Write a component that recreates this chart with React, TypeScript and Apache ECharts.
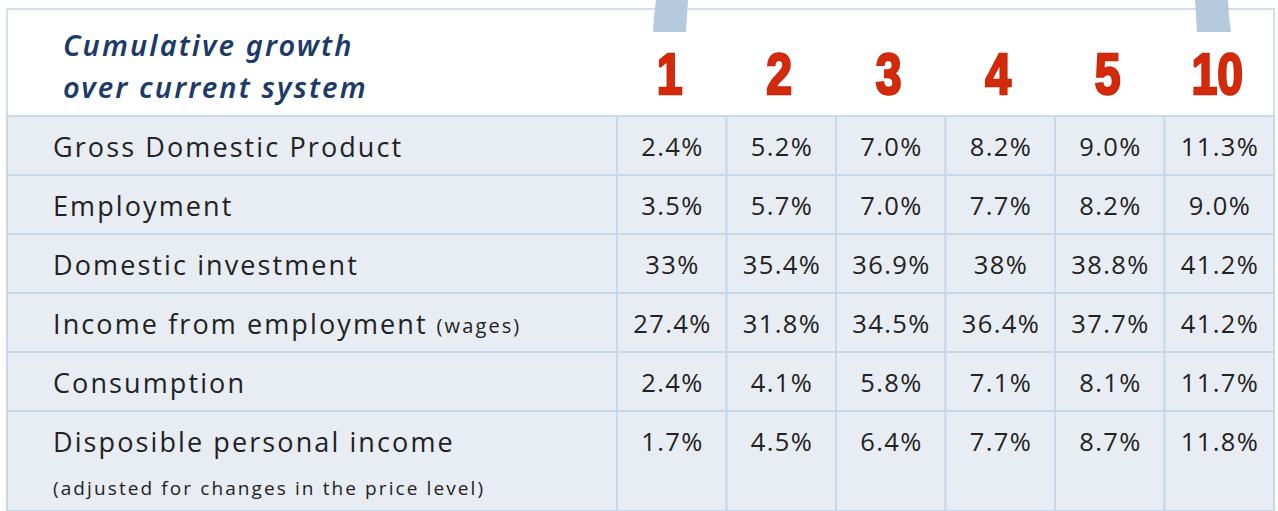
import React, { useEffect, useRef } from "react";
import * as echarts from "echarts";

const years = ["1", "2", "3", "4", "5", "10"];
const rowLabels = [
  "Gross Domestic Product",
  "Employment",
  "Domestic investment",
  "Income from employment",
  "Consumption",
  "Disposible personal income",
];
const rowNotes = ["", "", "", "(wages)", "", "(adjusted for changes in the price level)"];
const gdp = ["2.4", "5.2", "7.0", "8.2", "9.0", "11.3"];
const employment = ["3.5", "5.7", "7.0", "7.7", "8.2", "9.0"];
const investment = ["33", "35.4", "36.9", "38", "38.8", "41.2"];
const wages = ["27.4", "31.8", "34.5", "36.4", "37.7", "41.2"];
const consumption = ["2.4", "4.1", "5.8", "7.1", "8.1", "11.7"];
const disposable = ["1.7", "4.5", "6.4", "7.7", "8.7", "11.8"];
const titleText = "Cumulative growth\nover current system";

const rows = [gdp, employment, investment, wages, consumption, disposable];

const BG = "#e8edf3";
const LINE = "#c7d8e8";
const TEXT = "#222222";
const BODY_FONT = "'Open Sans', sans-serif";
const VALUE_FONT = "'Open Sans', Roboto, sans-serif";
const TITLE_FONT = "'Noto Sans', sans-serif";
const BODY_SPACING = 2.1;
const VALUE_SPACING = 1.4;
const BODY_SIZE = 27;
const VALUE_SIZE = 25.5;
const ROW_H = 59;
const GRID_TOP = 116;
const H = 511;

const css = `
#root svg text[style*="Open Sans"] { letter-spacing: ${BODY_SPACING}px; }
#root svg text[style*="Roboto"] { letter-spacing: ${VALUE_SPACING}px; }
#root svg text[style*="Noto Sans"] { letter-spacing: 2.1px; }
`;

let measureCtx: CanvasRenderingContext2D | null = null;
function textWidth(text: string, font: string) {
  if (!measureCtx) measureCtx = document.createElement("canvas").getContext("2d");
  measureCtx!.font = font;
  return measureCtx!.measureText(text).width + text.length * BODY_SPACING;
}

export default function App() {
  const ref = useRef<HTMLDivElement>(null);
  useEffect(() => {
    document.body.style.margin = "0";
    const chart = echarts.init(ref.current!, null, { renderer: "svg" });

    const labelData = rowLabels.map((_, r) => [0, r]);
    const valueData: any[] = [];
    rows.forEach((vals, r) => vals.forEach((v, c) => valueData.push([c, r, v])));
    const headerData = years.map((_, i) => [i, 0]);
    const yMax = (H - GRID_TOP) / ROW_H;

    const rowBounds = (api: any, params: any, r: number) => {
      const cs = params.coordSys;
      const top = api.coord([0, r])[1];
      const bottom = r === rowLabels.length - 1 ? cs.y + cs.height : api.coord([0, r + 1])[1];
      return { top, bottom };
    };

    chart.setOption({
      animation: false,
      backgroundColor: "#ffffff",
      title: {
        text: titleText,
        left: 58,
        top: 18,
        textStyle: {
          fontFamily: TITLE_FONT,
          fontStyle: "italic",
          fontWeight: 600,
          fontSize: 29,
          lineHeight: 42,
          color: "#1d3b69",
        },
      },
      grid: [
        { left: 7, top: GRID_TOP, width: 610, bottom: 0 },
        { left: 617, top: GRID_TOP, width: 657, bottom: 0 },
      ],
      xAxis: [
        { type: "category", gridIndex: 0, data: ["label"], show: false },
        {
          type: "category",
          gridIndex: 1,
          data: years,
          position: "top",
          axisLine: { show: false },
          axisTick: { show: false },
          splitLine: { show: false },
          axisLabel: { show: false },
        },
      ],
      yAxis: [
        { type: "value", gridIndex: 0, min: 0, max: yMax, inverse: true, show: false },
        { type: "value", gridIndex: 1, min: 0, max: yMax, inverse: true, show: false },
      ],
      graphic: [
        {
          type: "rect",
          shape: { x: 7, y: 9, width: 1267, height: 107 },
          style: { fill: "#ffffff", stroke: "#d3dfea", lineWidth: 2 },
          z: -1,
        },
        {
          type: "polygon",
          shape: { points: [[656, 0], [688, 0], [687, 16], [686, 32], [653, 32], [654, 16]] },
          style: { fill: "#b5cadd" },
        },
        {
          type: "polygon",
          shape: { points: [[1195, 0], [1228, 0], [1229, 16], [1231, 32], [1197, 32], [1196, 16]] },
          style: { fill: "#b5cadd" },
        },
      ],
      series: [
        {
          type: "custom",
          xAxisIndex: 0,
          yAxisIndex: 0,
          clip: false,
          data: labelData,
          renderItem: (params: any, api: any) => {
            const r = api.value(1);
            const cs = params.coordSys;
            const { top, bottom } = rowBounds(api, params, r);
            const x0 = cs.x + 46;
            const children: any[] = [
              {
                type: "rect",
                shape: { x: cs.x, y: top, width: cs.width, height: bottom - top },
                style: { fill: BG, stroke: LINE, lineWidth: 2 },
              },
              {
                type: "text",
                style: {
                  x: x0,
                  y: top + 30,
                  text: rowLabels[r],
                  verticalAlign: "middle",
                  fontFamily: BODY_FONT,
                  fontSize: BODY_SIZE,
                  fill: TEXT,
                },
              },
            ];
            const note = rowNotes[r];
            if (note) {
              const last = r === rowLabels.length - 1;
              const nx = last ? x0 : x0 + textWidth(rowLabels[r], `${BODY_SIZE}px ${BODY_FONT}`) + 9;
              children.push({
                type: "text",
                style: {
                  x: nx,
                  y: last ? top + 77 : top + 32,
                  text: note,
                  verticalAlign: "middle",
                  fontFamily: BODY_FONT,
                  fontSize: last ? 19 : 20,
                  fill: TEXT,
                },
              });
            }
            return { type: "group", children };
          },
        },
        {
          type: "custom",
          xAxisIndex: 1,
          yAxisIndex: 1,
          clip: false,
          data: valueData,
          renderItem: (params: any, api: any) => {
            const c = api.value(0);
            const r = api.value(1);
            const cx = api.coord([c, r])[0];
            const w = api.size([1, 1])[0];
            const { top, bottom } = rowBounds(api, params, r);
            const v = valueData[params.dataIndex][2];
            return {
              type: "group",
              children: [
                {
                  type: "rect",
                  shape: { x: cx - w / 2, y: top, width: w, height: bottom - top },
                  style: { fill: BG, stroke: LINE, lineWidth: 2 },
                },
                {
                  type: "text",
                  style: {
                    x: cx + VALUE_SPACING / 2,
                    y: top + 30,
                    text: v + "%",
                    align: "center",
                    verticalAlign: "middle",
                    fontFamily: VALUE_FONT,
                    fontSize: VALUE_SIZE,
                    fill: TEXT,
                  },
                },
              ],
            };
          },
        },
        {
          type: "custom",
          xAxisIndex: 1,
          yAxisIndex: 1,
          clip: false,
          data: headerData,
          renderItem: (params: any, api: any) => {
            const i = api.value(0);
            const cx = api.coord([i, 0])[0];
            const cs = params.coordSys;
            return {
              type: "text",
              x: cx - 2,
              y: cs.y - 42,
              scaleX: 0.8,
              style: {
                x: 0,
                y: 0,
                text: years[i],
                align: "center",
                verticalAlign: "middle",
                fontFamily: "'Liberation Sans', Arial, sans-serif",
                fontWeight: "bold",
                fontSize: 58,
                fill: "#d42a0c",
                stroke: "#c8260a",
                lineWidth: 2.5,
                shadowColor: "rgba(90,10,0,0.45)",
                shadowBlur: 2,
                shadowOffsetX: 1,
                shadowOffsetY: 1,
              },
            };
          },
        },
      ],
    });
    return () => chart.dispose();
  }, []);
  return (
    <>
      <style>{css}</style>
      <div ref={ref} style={{ width: 1278, height: 511 }} />
    </>
  );
}
